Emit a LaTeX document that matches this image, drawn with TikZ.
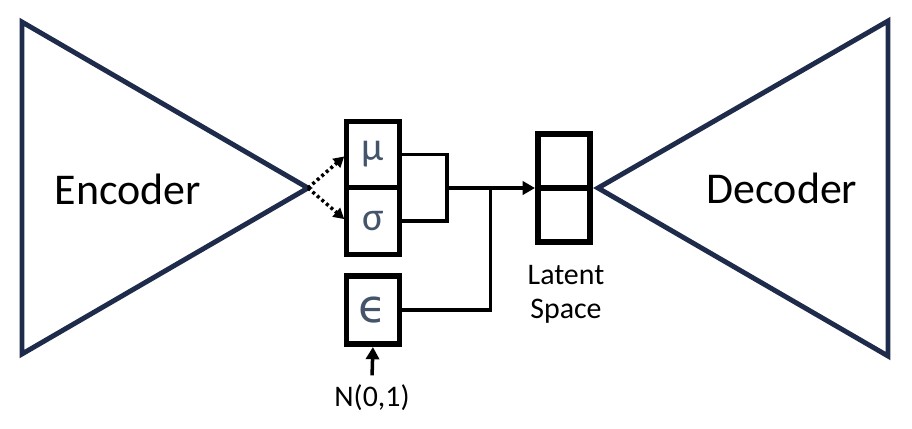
\documentclass[tikz,border=0pt]{standalone}
\usepackage{fontspec}
\setmainfont{Carlito}
\newfontfamily\symfont{DejaVu Sans}
\usetikzlibrary{positioning,arrows.meta}
\definecolor{netblue}{HTML}{1F2B4A}
\definecolor{greekgray}{HTML}{44546A}

\begin{document}
\begin{tikzpicture}[
    net/.style={draw=netblue, line width=2.8pt, line join=miter},
    cell/.style={draw=black, line width=3.4pt, outer sep=0pt, inner sep=0pt,
        minimum width=1.06cm, minimum height=1.32cm, text=greekgray,
        font=\fontsize{23}{27}\selectfont},
    link/.style={draw=black, line width=2pt},
    arr/.style={link, -{Triangle[length=7pt,width=7.5pt]}},
    dotarr/.style={link, dash pattern=on 1.7pt off 1.7pt, -{Triangle[length=6pt,width=6.5pt]}},
    txt/.style={font=\fontsize{17}{19.4}\selectfont},
    big/.style={font=\fontsize{25}{30}\selectfont, anchor=base}
]
    \useasboundingbox (0,0) rectangle (18.24,8.56);

    % Encoder
    \coordinate (encapex) at (6.16,4.8);
    \draw[net] (0.44,8.12) -- (encapex) -- (0.44,1.48) -- cycle;
    \node[big] (enc) at (2.56,4.48) {Encoder};

    % Mean, deviation and noise
    \node[cell] (mu) at (7.46,5.47) {μ};
    \node[cell, below=0pt of mu, minimum height=1.34cm] (sigma) {σ};
    \node[cell, minimum height=1.36cm, font=\symfont\fontsize{26}{30}\selectfont] (eps) at (7.46,2.36) {ϵ};
    \node[txt, anchor=base] (noise) at (7.44,0.44) {N(0,1)};

    % Latent space
    \node[cell, minimum width=1.04cm, minimum height=1.08cm] (lattop) at (11.28,5.34) {};
    \node[cell, minimum width=1.04cm, minimum height=1.08cm, below=0pt of lattop] (latbot) {};
    \node[txt, align=center] (latlbl) at (11.32,2.68) {Latent\\Space};

    % Decoder
    \coordinate (decapex) at (11.96,4.8);
    \draw[net] (decapex) -- (17.76,8.14) -- (17.76,1.44) -- cycle;
    \node[big] (dec) at (15.64,4.5) {Decoder};

    % Connections
    \coordinate (brk) at (8.94,4.8);
    \coordinate (junc) at (9.81,4.8);
    \draw[dotarr, shorten >=1.7pt] (encapex) -- (mu.west);
    \draw[dotarr, shorten >=1.7pt] (encapex) -- (sigma.west);
    \draw[link] (mu.east) -| (brk) |- (sigma.east);
    \draw[arr, shorten >=1.7pt] (brk) -- (lattop.south west);
    \draw[link] (eps.east) -| (junc);
    \draw[arr, shorten <=1.5pt, shorten >=1.7pt] (noise.north) -- (eps.south);
\end{tikzpicture}
\end{document}
